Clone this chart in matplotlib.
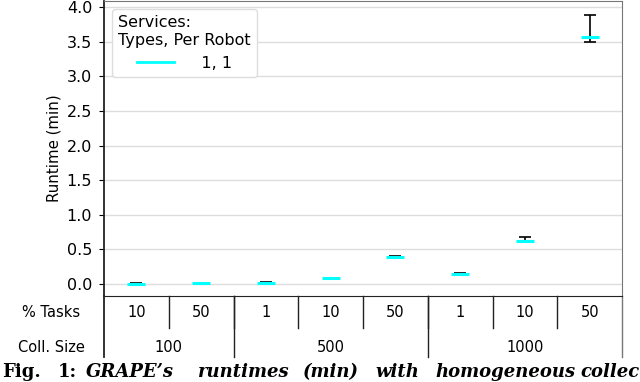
import numpy as np
import matplotlib
matplotlib.use('Agg')
import matplotlib.pyplot as plt
from matplotlib.lines import Line2D
import matplotlib.transforms as mtransforms

# data
coll_sizes = ['100', '500', '1000']
group_counts = [2, 3, 3]
task_pcts = ['10', '50', '1', '10', '50', '1', '10', '50']
runtime_mean = [0.00, 0.01, 0.02, 0.08, 0.395, 0.15, 0.625, 3.56]
runtime_low = [-0.01, 0.00, 0.01, 0.07, 0.385, 0.14, 0.60, 3.50]
runtime_high = [0.01, 0.02, 0.035, 0.09, 0.405, 0.165, 0.68, 3.89]

x = np.arange(len(task_pcts))
mean = np.array(runtime_mean)
yerr = np.array([mean - np.array(runtime_low), np.array(runtime_high) - mean])

fig = plt.figure(figsize=(6.4, 3.82), dpi=100)
ax = fig.add_axes([0.1625, 0.2251, 0.8095, 0.7723])

ax.errorbar(x, mean, yerr=yerr, fmt='none', ecolor='black', elinewidth=1.2,
            capsize=4.5, capthick=1.2, zorder=3)
ax.plot(x, mean, linestyle='none', marker='_', markersize=12.5,
        markeredgewidth=2.2, color='cyan', zorder=4)

ax.set_xlim(-0.5, len(task_pcts) - 0.5)
ax.set_ylim(-0.173, 4.087)
yt = np.arange(0, 4.01, 0.5)
ax.set_yticks(yt)
ax.set_yticklabels(['%.1f' % v for v in yt], fontsize=11.5)
ax.tick_params(axis='y', pad=5)
ax.set_xticks([])
ax.yaxis.grid(True, color='#dddddd', linewidth=1)
ax.set_axisbelow(True)
ax.set_ylabel('Runtime (min)', fontsize=10.8, labelpad=4)

for side in ['top', 'right']:
    ax.spines[side].set_color('#777777')
ax.spines['left'].set_color('#222222')
ax.spines['left'].set_linewidth(1.3)
ax.spines['bottom'].set_color('#222222')

# table below the axis
trans = mtransforms.blended_transform_factory(ax.transData, ax.transAxes)
row1_bot = -32 / 295
row2_bot = -61 / 295
row2_mid = -51 / 295
for i, t in enumerate(task_pcts):
    ax.text(i, row1_bot / 2, t, transform=trans, ha='center', va='center', fontsize=10.5)
for i in range(1, len(task_pcts)):
    ax.plot([i - 0.5, i - 0.5], [0, row1_bot], transform=trans, color='#222222',
            linewidth=1, clip_on=False)
start = 0
for size, n in zip(coll_sizes, group_counts):
    ax.text(start + (n - 1) / 2, row2_mid, size, transform=trans,
            ha='center', va='center', fontsize=10.5)
    ax.plot([start - 0.5, start - 0.5], [0, row2_bot], transform=trans, color='#222222',
            linewidth=1.3 if start == 0 else 1, clip_on=False)
    start += n
ax.plot([start - 0.5, start - 0.5], [0, row2_bot], transform=trans, color='#777777',
        linewidth=1, clip_on=False)
lab_x = (51 - 104) / 518
ax.text(lab_x, row1_bot / 2, '% Tasks', transform=ax.transAxes, ha='center', va='center',
        fontsize=10.5)
ax.text(lab_x, row2_mid, 'Coll. Size', transform=ax.transAxes,
        ha='center', va='center', fontsize=10.5)

handle = Line2D([], [], color='cyan', linewidth=2)
ax.legend([handle], ['   1, 1'], title='Services:\nTypes, Per Robot', loc='upper left',
          fontsize=11.5, title_fontsize=11.5, handlelength=2.3, framealpha=1,
          edgecolor='#dddddd', borderaxespad=0.5)

# caption (cropped in the source)
cap_y = 0.013
fig.text(2 / 640, cap_y, 'Fig.', fontsize=13, family='DejaVu Serif', weight='bold')
fig.text(58 / 640, cap_y, '1:', fontsize=13, family='DejaVu Serif', weight='bold')
words = [('GRAPE\u2019s', 86), ('runtimes', 198), ('(min)', 303), ('with', 375),
         ('homogeneous', 435), ('collec', 580)]
for w, px in words:
    fig.text(px / 640, cap_y, w, fontsize=13, family='DejaVu Serif',
             weight='bold', style='italic')

fig.savefig('out.png', dpi=100)
